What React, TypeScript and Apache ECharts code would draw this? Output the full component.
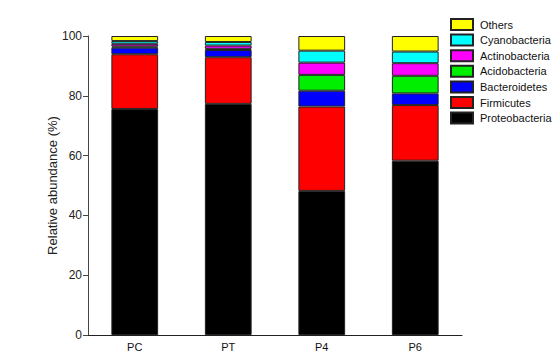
import React, { useEffect, useRef } from "react";
import * as echarts from "echarts";

const categories = ["PC", "PT", "P4", "P6"];
const seriesNames = [
  "Proteobacteria",
  "Firmicutes",
  "Bacteroidetes",
  "Acidobacteria",
  "Actinobacteria",
  "Cyanobacteria",
  "Others",
];
const proteobacteria = [75.6, 77.3, 48.2, 58.3];
const firmicutes = [18.3, 15.6, 28.2, 18.6];
const bacteroidetes = [2.2, 2.4, 5.3, 3.9];
const acidobacteria = [0.4, 0.4, 5.3, 5.9];
const actinobacteria = [0.9, 1.1, 4.1, 4.2];
const cyanobacteria = [0.9, 1.2, 4.0, 3.9];
const others = [1.7, 2.0, 4.9, 5.2];
const seriesValues = [
  proteobacteria,
  firmicutes,
  bacteroidetes,
  acidobacteria,
  actinobacteria,
  cyanobacteria,
  others,
];
const colors = ["#000000", "#FF0000", "#0000FF", "#00EE00", "#FF00FF", "#00FFFF", "#FFFF00"];
const yTicks = [0, 20, 40, 60, 80, 100];

const FONT = "Arial, 'Liberation Sans', sans-serif";

export default function App() {
  const ref = useRef<HTMLDivElement>(null);
  useEffect(() => {
    if (!ref.current) return;
    const chart = echarts.init(ref.current, null, { renderer: "svg" });
    chart.setOption({
      animation: false,
      backgroundColor: "#ffffff",
      grid: { left: 88, right: 97, top: 36, bottom: 20, containLabel: false },
      legend: {
        orient: "vertical",
        left: 450,
        top: 18,
        padding: 0,
        icon: "rect",
        itemWidth: 22,
        itemHeight: 11,
        itemGap: 2.6,
        data: [...seriesNames].reverse(),
        textStyle: { fontFamily: FONT, fontSize: 11, color: "#111", padding: [0, 0, 0, 2] },
      },
      xAxis: {
        type: "category",
        data: categories,
        axisLine: { lineStyle: { color: "#222", width: 1 } },
        axisTick: { alignWithLabel: true, length: 4, lineStyle: { color: "#444" } },
        axisLabel: { fontFamily: FONT, fontSize: 11, color: "#111", margin: 6 },
      },
      yAxis: {
        type: "value",
        min: yTicks[0],
        max: yTicks[yTicks.length - 1],
        interval: 20,
        name: "Relative abundance (%)",
        nameLocation: "middle",
        nameGap: 29,
        nameMoveOverlap: false,
        nameTextStyle: { fontFamily: FONT, fontSize: 13, color: "#222" },
        splitLine: { show: false },
        axisLine: { show: true, lineStyle: { color: "#444", width: 1 } },
        axisTick: { show: true, length: 5, lineStyle: { color: "#444" } },
        axisLabel: { fontFamily: FONT, fontSize: 12, color: "#222", margin: 6 },
      },
      series: seriesNames.map((name, i) => ({
        name,
        type: "bar",
        stack: "total",
        barWidth: "50%",
        data: seriesValues[i],
        itemStyle: { color: colors[i], borderColor: "#222", borderWidth: 1 },
      })),
    });
    return () => chart.dispose();
  }, []);
  return (
    <div
      ref={ref}
      style={{ position: "fixed", left: 0, top: 0, width: 559, height: 355 }}
    />
  );
}
